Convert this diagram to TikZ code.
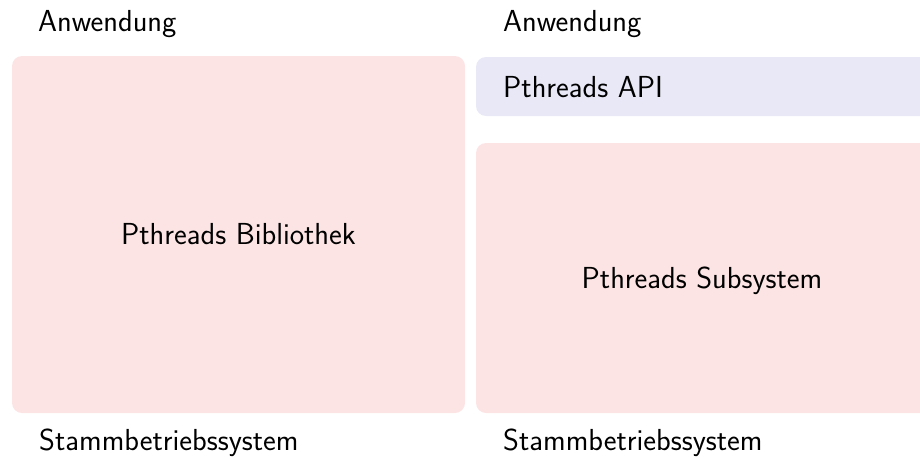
\documentclass[tikz,border=0pt]{standalone}
\usepackage{fontspec}
\begin{document}
\begin{tikzpicture}[x=1pt,y=-1pt,
  every node/.style={font=\sffamily\fontsize{30.4}{36}\selectfont, inner sep=0pt},
  pinkbox/.style={fill=pinkfill, draw=none, rounded corners=10pt},
  bluebox/.style={fill=bluefill, draw=none, rounded corners=10pt}]
\definecolor{pinkfill}{RGB}{253,228,228}
\definecolor{bluefill}{RGB}{232,232,246}
\useasboundingbox (0,0) rectangle (920,458);
\begin{scope}
\clip (0,0) rectangle (920,458);
% left column
\filldraw[pinkbox] (12,56) rectangle (465,413);
% right column
\filldraw[bluebox] (476,57) rectangle (940,116);
\filldraw[pinkbox] (476,143) rectangle (940,413);
\end{scope}
\node[anchor=base west] (appL) at (38,31) {Anwendung};
\node[anchor=base west] (appR) at (503,31) {Anwendung};
\node[anchor=base] (lib) at (238.5,244) {Pthreads Bibliothek};
\node[anchor=base west] (api) at (503,97) {Pthreads API};
\node[anchor=base] (sub) at (702,288) {Pthreads Subsystem};
\node[anchor=base west] (osL) at (39,450) {Stammbetriebssystem};
\node[anchor=base west] (osR) at (503,450) {Stammbetriebssystem};
\end{tikzpicture}
\end{document}
